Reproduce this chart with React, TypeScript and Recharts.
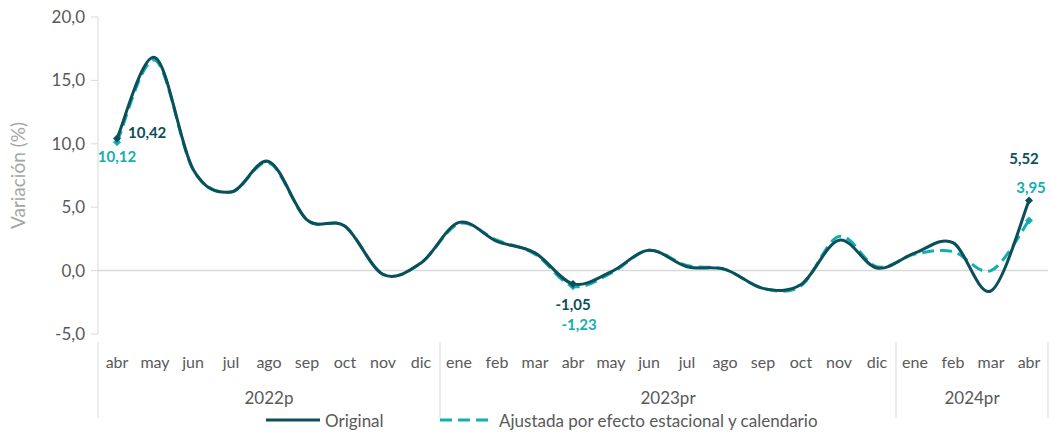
import { LineChart, Line, XAxis, YAxis, ReferenceLine } from 'recharts';

const months = ['abr', 'may', 'jun', 'jul', 'ago', 'sep', 'oct', 'nov', 'dic', 'ene', 'feb', 'mar', 'abr', 'may', 'jun', 'jul', 'ago', 'sep', 'oct', 'nov', 'dic', 'ene', 'feb', 'mar', 'abr'];
const years = ['2022p', '2022p', '2022p', '2022p', '2022p', '2022p', '2022p', '2022p', '2022p', '2023pr', '2023pr', '2023pr', '2023pr', '2023pr', '2023pr', '2023pr', '2023pr', '2023pr', '2023pr', '2023pr', '2023pr', '2024pr', '2024pr', '2024pr', '2024pr'];
const original = [10.42, 16.8, 8.0, 6.2, 8.6, 4.0, 3.5, -0.3, 0.6, 3.8, 2.3, 1.4, -1.05, -0.1, 1.6, 0.3, 0.1, -1.4, -1.1, 2.4, 0.2, 1.4, 2.2, -1.6, 5.52];
const ajustada = [10.12, 16.6, 8.0, 6.2, 8.5, 4.0, 3.5, -0.3, 0.6, 3.7, 2.4, 1.3, -1.23, -0.2, 1.6, 0.4, 0.1, -1.4, -1.2, 2.7, 0.3, 1.3, 1.5, 0.0, 3.95];
const yTicks = [-5, 0, 5, 10, 15, 20];
const labeled = [0, 12, 24];

const data = months.map((m, i) => ({ key: i, month: m, year: years[i], original: original[i], ajustada: ajustada[i] }));

const DARK = '#0B4F5A';
const TEAL = '#14AEB0';
const GRAY = '#595959';
const LINE = '#D9D9D9';
const FONT = 'Lato, "Open Sans", sans-serif';
const BAND = 38;

const fmt = (v: number) => v.toFixed(2).replace('.', ',');

// Excel-like smoothing (cardinal spline, tension 0)
const excelSmooth: any = (context: any) => {
  let pts: number[][] = [];
  return {
    areaStart() {},
    areaEnd() {},
    lineStart() { pts = []; },
    lineEnd() {
      const n = pts.length;
      if (!n) return;
      context.moveTo(pts[0][0], pts[0][1]);
      for (let i = 0; i < n - 1; i++) {
        const p0 = pts[i - 1] || pts[i];
        const p1 = pts[i];
        const p2 = pts[i + 1];
        const p3 = pts[i + 2] || p2;
        context.bezierCurveTo(
          p1[0] + (p2[0] - p0[0]) / 6, p1[1] + (p2[1] - p0[1]) / 6,
          p2[0] - (p3[0] - p1[0]) / 6, p2[1] - (p3[1] - p1[1]) / 6,
          p2[0], p2[1]
        );
      }
    },
    point(x: number, y: number) { pts.push([+x, +y]); },
  };
};

const Diamond = (color: string) => (props: any) => {
  const { cx, cy, index } = props;
  if (!labeled.includes(index) || cx == null) return <g key={index} />;
  return <path key={index} d={`M${cx},${cy - 4}L${cx + 4},${cy}L${cx},${cy + 4}L${cx - 4},${cy}Z`} fill={color} />;
};

const origOffsets: Record<number, [number, number, string]> = { 0: [11, -6, 'start'], 12: [0, 20, 'middle'], 24: [-5, -43, 'middle'] };
const ajOffsets: Record<number, [number, number, string]> = { 0: [0, 14, 'middle'], 12: [6, 38, 'middle'], 24: [2, -34, 'middle'] };

const makeLabel = (color: string, offs: Record<number, [number, number, string]>) => (props: any) => {
  const { x, y, index, value } = props;
  const o = offs[index];
  if (!o) return <g key={index} />;
  return (
    <text key={index} x={x + o[0]} y={y + o[1]} textAnchor={o[2] as any} dominantBaseline="central" fill={color} fontSize={15} fontWeight={700} fontFamily={FONT}>
      {fmt(value)}
    </text>
  );
};

const MonthTick = (props: any) => {
  const { x, y, payload, index } = props;
  const i = payload.index ?? index;
  const isStart = i === 0 || years[i] !== years[i - 1];
  const isLast = i === months.length - 1;
  let groupLen = 0;
  if (isStart) {
    while (i + groupLen < years.length && years[i + groupLen] === years[i]) groupLen++;
  }
  return (
    <g>
      <text x={x} y={y + 19} textAnchor="middle" dominantBaseline="central" fill={GRAY} fontSize={16} fontFamily={FONT}>
        {months[i]}
      </text>
      {isStart && (
        <>
          <line x1={x - BAND / 2} x2={x - BAND / 2} y1={y} y2={y + 76} stroke={LINE} />
          <text x={x + ((groupLen - 1) * BAND) / 2} y={y + 55} textAnchor="middle" dominantBaseline="central" fill={GRAY} fontSize={17} fontFamily={FONT}>
            {years[i]}
          </text>
        </>
      )}
      {isLast && <line x1={x + BAND / 2} x2={x + BAND / 2} y1={y} y2={y + 76} stroke={LINE} />}
    </g>
  );
};

export default function App() {
  return (
    <div style={{ position: 'absolute', left: 0, top: 0, width: 1051, height: 433, background: '#fff', fontFamily: FONT }}>
      <LineChart width={1051} height={433} data={data} margin={{ top: 17, right: 3, bottom: 0, left: 0 }}>
        <XAxis dataKey="key" axisLine={false} tickLine={false} tick={<MonthTick />} interval={0} height={99} padding={{ left: BAND / 2, right: BAND / 2 }} />
        <YAxis
          width={98}
          domain={[-5, 20]}
          ticks={yTicks}
          tickFormatter={(v: number) => v.toFixed(1).replace('.', ',')}
          axisLine={{ stroke: LINE }}
          tickLine={{ stroke: LINE }}
          tickSize={7}
          tick={{ fill: GRAY, fontSize: 17, fontFamily: FONT, dx: -4 }}
          label={{ value: 'Variación (%)', angle: -90, position: 'insideLeft', offset: 18, style: { fill: '#A6A6A6', fontSize: 19, fontFamily: FONT, textAnchor: 'middle' } }}
        />
        <ReferenceLine y={0} stroke={LINE} strokeWidth={1.5} />
        <Line
          dataKey="ajustada"
          type={excelSmooth}
          stroke={TEAL}
          strokeWidth={3}
          strokeDasharray="12 6"
          dot={Diamond(TEAL)}
          activeDot={false}
          label={makeLabel(TEAL, ajOffsets)}
          isAnimationActive={false}
        />
        <Line
          dataKey="original"
          type={excelSmooth}
          stroke={DARK}
          strokeWidth={3}
          dot={Diamond(DARK)}
          activeDot={false}
          label={makeLabel(DARK, origOffsets)}
          isAnimationActive={false}
        />
      </LineChart>
      <svg width={1051} height={22} style={{ position: 'absolute', left: 0, top: 409 }}>
        <line x1={266} x2={320} y1={11} y2={11} stroke={DARK} strokeWidth={3} />
        <text x={325} y={11} dominantBaseline="central" fill={GRAY} fontSize={17} fontFamily={FONT}>Original</text>
        <line x1={440} x2={494} y1={11} y2={11} stroke={TEAL} strokeWidth={3} strokeDasharray="12 6" />
        <text x={499} y={11} dominantBaseline="central" fill={GRAY} fontSize={17} fontFamily={FONT}>Ajustada por efecto estacional y calendario</text>
      </svg>
    </div>
  );
}
